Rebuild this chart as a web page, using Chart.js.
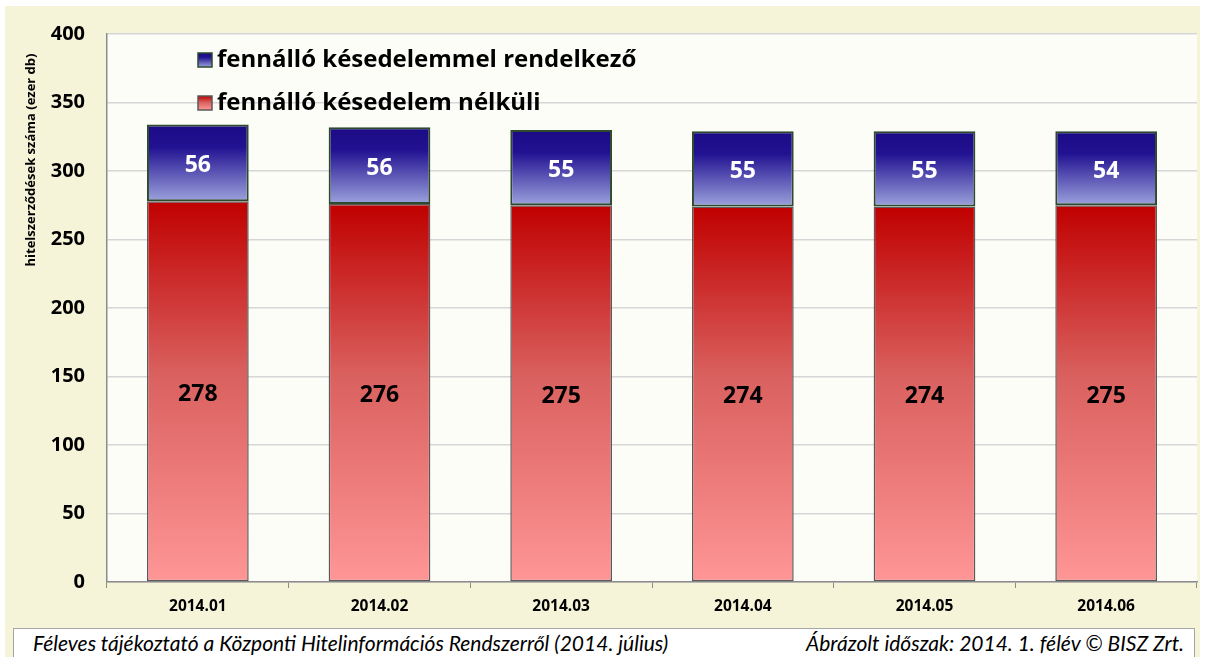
<!DOCTYPE html>
<html>
<head>
<meta charset="utf-8">
<script src="https://cdn.jsdelivr.net/npm/chart.js@4.4.1/dist/chart.umd.min.js"></script>
<style>
  html, body { margin: 0; padding: 0; background: #ffffff; }
  #wrap { position: relative; width: 1210px; height: 657px; overflow: hidden; }
  #bg { position: absolute; left: 5px; top: 6px; width: 1195px; height: 651px; background: #f5f3d8; }
  #c { position: absolute; left: 0; top: 0; }
  #footer {
    position: absolute; left: 13px; top: 628px; width: 1182px; height: 32px;
    background: #ffffff; border: 1px solid #a6a6a6; box-sizing: border-box;
    font-family: Lato, "Open Sans", sans-serif; font-style: italic; font-size: 21px; color: #000;
  }
  #footer .l { position: absolute; left: 19px; top: 1px; }
  #footer .r { position: absolute; right: 10px; top: 1px; }
</style>
</head>
<body>
<div id="wrap">
  <div id="bg"></div>
  <canvas id="c" width="1210" height="657"></canvas>
  <div id="footer">
    <span class="l">Féleves tájékoztató a Központi Hitelinformációs Rendszerről (2014. július)</span>
    <span class="r">Ábrázolt időszak: 2014. 1. félév © BISZ Zrt.</span>
  </div>
</div>
<script>
// adatok
const honapok = ["2014.01", "2014.02", "2014.03", "2014.04", "2014.05", "2014.06"];
const kesedelemNelkuli = [278, 276, 275, 274, 274, 275];
const kesedelemmel = [56, 56, 55, 55, 55, 54];
const sorozatNevek = ["fennálló késedelemmel rendelkező", "fennálló késedelem nélküli"];
const yTengelyCim = "hitelszerződések száma (ezer db)";

const betu = "'Open Sans', Lato, sans-serif";

const pirosStops = [[0, "#c00000"], [0.45, "#d9605e"], [1, "#ff9696"]];
const kekStops = [[0, "#1c0a84"], [0.3, "#221292"], [1, "#9ca2dc"]];

// szinatmenet egy szegmensre (alulrol felfele)
function atmenet(chart, also, felso, stops) {
  const y = chart.scales.y;
  if (!chart.chartArea || !y) return stops[1][1];
  const y1 = y.getPixelForValue(felso);
  const y2 = y.getPixelForValue(also);
  if (!isFinite(y1) || !isFinite(y2)) return stops[1][1];
  const g = chart.ctx.createLinearGradient(0, y1, 0, y2);
  stops.forEach((s) => g.addColorStop(s[0], s[1]));
  return g;
}

// feliratok az oszlopokon + jelmagyarazat + tengelycim
const feliratok = {
  id: "feliratok",
  afterDatasetsDraw(chart) {
    const ctx = chart.ctx;
    ctx.save();
    ctx.font = "bold 23px " + betu;
    ctx.textAlign = "center";
    ctx.textBaseline = "middle";
    chart.data.datasets.forEach((ds, i) => {
      const meta = chart.getDatasetMeta(i);
      meta.data.forEach((bar, j) => {
        ctx.fillStyle = i === 1 ? "#ffffff" : "#000000";
        ctx.fillText(String(ds.data[j]), bar.x, (bar.y + bar.base) / 2 + 3);
      });
    });
    const items = [
      { text: sorozatNevek[0], y: 60, stops: kekStops, border: "#2d4a2d" },
      { text: sorozatNevek[1], y: 103, stops: pirosStops, border: "#5a5a5a" },
    ];
    items.forEach((it) => {
      const g = ctx.createLinearGradient(0, it.y - 7, 0, it.y + 7);
      it.stops.forEach((s) => g.addColorStop(s[0], s[1]));
      ctx.fillStyle = g;
      ctx.fillRect(198, it.y - 7, 14, 14);
      ctx.strokeStyle = it.border;
      ctx.lineWidth = 1.5;
      ctx.strokeRect(198, it.y - 7, 14, 14);
      ctx.fillStyle = "#000000";
      ctx.textAlign = "left";
      ctx.font = "bold 24px " + betu;
      ctx.fillText(it.text, 217, it.y);
    });
    // y tengely cime (Excelben a felso resz fele tolva)
    ctx.translate(31, 160);
    ctx.rotate(-Math.PI / 2);
    ctx.textAlign = "center";
    ctx.font = "bold 13px " + betu;
    ctx.fillStyle = "#000";
    ctx.fillText(yTengelyCim, 0, 0);
    ctx.restore();
  },
};

const teruletHatter = {
  id: "teruletHatter",
  beforeDraw(chart) {
    const a = chart.chartArea;
    const ctx = chart.ctx;
    ctx.save();
    ctx.fillStyle = "#fdfdf8";
    ctx.fillRect(a.left, a.top, a.right - a.left, a.bottom - a.top);
    ctx.restore();
  },
};

new Chart(document.getElementById("c"), {
  type: "bar",
  data: {
    labels: honapok,
    datasets: [
      {
        label: sorozatNevek[1],
        data: kesedelemNelkuli,
        backgroundColor: (c) => atmenet(c.chart, 0, kesedelemNelkuli[c.dataIndex], pirosStops),
        borderColor: "#5a5a5a",
        borderWidth: 1.5,
        borderSkipped: false,
      },
      {
        label: sorozatNevek[0],
        data: kesedelemmel,
        backgroundColor: (c) =>
          atmenet(c.chart, kesedelemNelkuli[c.dataIndex], kesedelemNelkuli[c.dataIndex] + kesedelemmel[c.dataIndex], kekStops),
        borderColor: "#2d4a2d",
        borderWidth: 2,
        borderSkipped: false,
      },
    ],
  },
  options: {
    responsive: false,
    animation: false,
    barPercentage: 0.56,
    categoryPercentage: 1,
    layout: { padding: { left: 24, right: 13, top: 33, bottom: 32 } },
    plugins: { legend: { display: false }, tooltip: { enabled: false } },
    scales: {
      x: {
        stacked: true,
        afterFit: (s) => { s.height = 43; },
        grid: { offset: true, drawOnChartArea: false, color: "#8c8c8c", tickLength: 6 },
        border: { color: "#8c8c8c", width: 1.5 },
        ticks: { font: { family: betu, size: 15.5, weight: "bold" }, color: "#000", padding: 9 },
      },
      y: {
        stacked: true,
        min: 0,
        max: 400,
        afterFit: (s) => { s.width = 83; },
        grid: { color: "#d6d6d6", lineWidth: 1.5, drawTicks: false },
        border: { color: "#8c8c8c", width: 1.5 },
        ticks: { stepSize: 50, font: { family: betu, size: 20, weight: "bold" }, color: "#000", padding: 22 },
      },
    },
  },
  plugins: [teruletHatter, feliratok],
});
</script>
</body>
</html>
